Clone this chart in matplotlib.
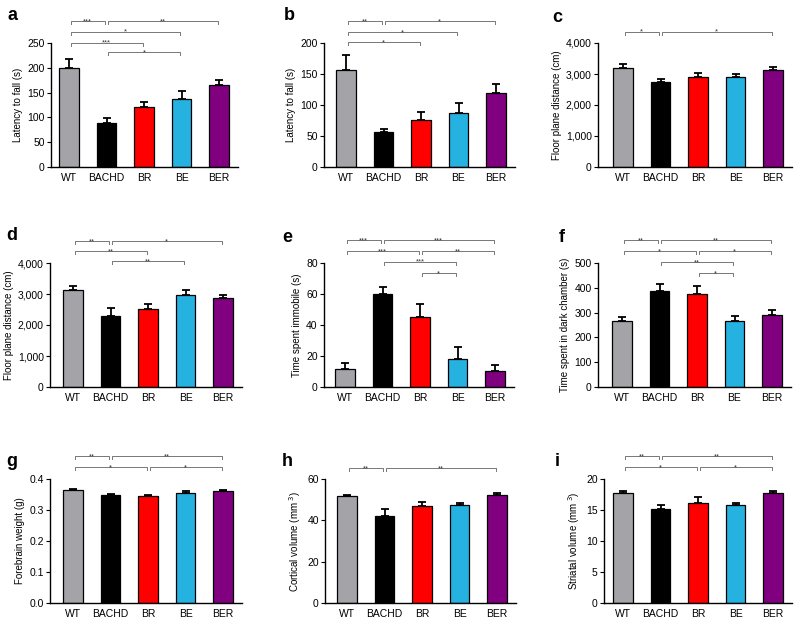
import numpy as np
import matplotlib.pyplot as plt

plt.rcParams['font.family'] = ['Liberation Sans', 'DejaVu Sans']

groups = ['WT', 'BACHD', 'BR', 'BE', 'BER']
colors = ['#a3a3a8', '#000000', '#ff0000', '#26b2e0', '#800080']

# panel values (mean, upper SEM)
rotarod1 = [199, 89, 121, 138, 165]
rotarod1_sem = [18, 9, 11, 15, 10]
rotarod2 = [157, 56, 75, 87, 119]
rotarod2_sem = [23, 6, 13, 16, 15]
floor1 = [3195, 2730, 2905, 2890, 3120]
floor1_sem = [140, 120, 130, 120, 108]
floor2 = [3135, 2290, 2520, 2975, 2855]
floor2_sem = [130, 250, 160, 160, 120]
immobile = [11.5, 59.7, 45.4, 18.2, 10.2]
immobile_sem = [3.7, 4.5, 8.0, 7.3, 3.9]
dark = [266, 389, 374, 266, 289]
dark_sem = [15, 27, 32, 20, 20]
forebrain = [0.364, 0.349, 0.345, 0.354, 0.362]
forebrain_sem = [0.005, 0.003, 0.002, 0.006, 0.003]
cortical = [51.6, 42.2, 47.0, 47.4, 52.5]
cortical_sem = [0.8, 3.5, 2.0, 1.1, 0.7]
striatal = [17.7, 15.1, 16.05, 15.8, 17.8]
striatal_sem = [0.4, 0.65, 1.0, 0.35, 0.3]

# significance brackets: (from, to, height, stars)
sig_a = [(0, 1, 295, '***'), (1, 4, 295, '**'), (0, 3, 273, '*'), (0, 2, 251, '***'), (1, 3, 231, '*')]
sig_b = [(0, 1, 236, '**'), (1, 4, 236, '*'), (0, 3, 218, '*'), (0, 2, 202, '*')]
sig_c = [(0, 1, 4366, '*'), (1, 4, 4366, '*')]
sig_d = [(0, 1, 4700, '**'), (1, 4, 4700, '*'), (0, 2, 4378, '**'), (1, 3, 4054, '**')]
sig_e = [(0, 1, 94.7, '***'), (1, 4, 94.7, '***'), (0, 2, 87.6, '***'), (2, 4, 87.6, '**'),
         (1, 3, 80.9, '***'), (2, 3, 73.5, '*')]
sig_f = [(0, 1, 592, '**'), (1, 4, 592, '**'), (0, 2, 547, '*'), (2, 4, 547, '*'),
         (1, 3, 505, '**'), (2, 3, 459, '*')]
sig_g = [(0, 1, 0.4735, '**'), (1, 4, 0.4735, '**'), (0, 2, 0.438, '*'), (2, 4, 0.438, '*')]
sig_h = [(0, 1, 65.3, '**'), (1, 4, 65.3, '**')]
sig_i = [(0, 1, 23.7, '**'), (1, 4, 23.7, '**'), (0, 2, 21.9, '*'), (2, 4, 21.9, '*')]

panels = [
    ('a', rotarod1, rotarod1_sem, 'Latency to fall (s)', np.arange(0, 251, 50), None, sig_a),
    ('b', rotarod2, rotarod2_sem, 'Latency to fall (s)', np.arange(0, 201, 50), None, sig_b),
    ('c', floor1, floor1_sem, 'Floor plane distance (cm)', np.arange(0, 4001, 1000), 'comma', sig_c),
    ('d', floor2, floor2_sem, 'Floor plane distance (cm)', np.arange(0, 4001, 1000), 'comma', sig_d),
    ('e', immobile, immobile_sem, 'Time spent immobile (s)', np.arange(0, 81, 20), None, sig_e),
    ('f', dark, dark_sem, 'Time spent in dark chamber (s)', np.arange(0, 501, 100), None, sig_f),
    ('g', forebrain, forebrain_sem, 'Forebrain weight (g)', np.arange(0, 0.41, 0.1), '1f', sig_g),
    ('h', cortical, cortical_sem, 'Cortical volume (mm$^{\\ 3}$)', np.arange(0, 61, 20), None, sig_h),
    ('i', striatal, striatal_sem, 'Striatal volume (mm$^{\\ 3}$)', np.arange(0, 21, 5), None, sig_i),
]

# layout in pixels: left spine x, WT bar centre x, x-axis y, panel letter pos
spine_x = [51, 324, 598, 50, 324, 598, 50, 325, 604]
wt_x = [69, 346, 623, 73, 345, 622, 73, 347, 623]
base_y = [167, 167, 167, 387, 387, 387, 603, 603, 603]
letter_pos = [(12, 16), (289, 15), (557, 17), (12, 235), (287, 238), (562, 237),
              (12, 462), (287, 462), (557, 462)]
W, H = 800, 624
step = 37.5
ax_h = 124

fig = plt.figure(figsize=(8, 6.24), dpi=100)

for k, (letter, vals, sem, ylab, ticks, fmt, sigs) in enumerate(panels):
    left_units = (wt_x[k] - spine_x[k]) / step
    xlim = (-left_units, 4.5)
    width_px = (xlim[1] - xlim[0]) * step
    ax = fig.add_axes([spine_x[k] / W, 1 - base_y[k] / H, width_px / W, ax_h / H])
    x = np.arange(len(groups))
    ax.bar(x, vals, width=0.53, color=colors, edgecolor='black', linewidth=0.9, zorder=2)
    ax.errorbar(x, vals, yerr=[np.zeros(5), sem], fmt='none', ecolor='black',
                elinewidth=1.3, capsize=3.2, capthick=1.3, zorder=1)
    ymax = ticks[-1]
    ax.set_xlim(*xlim)
    ax.set_ylim(0, ymax)
    ax.set_yticks(ticks)
    if fmt == 'comma':
        ax.set_yticklabels(['{:,}'.format(int(t)) for t in ticks])
    elif fmt == '1f':
        ax.set_yticklabels(['{:.1f}'.format(t) for t in ticks])
    ax.set_xticks(x)
    ax.set_xticklabels(groups)
    ax.tick_params(axis='x', length=0, labelsize=7.5, pad=4)
    ax.tick_params(axis='y', length=3, width=0.8, labelsize=7.5, pad=1.5)
    for s in ['top', 'right']:
        ax.spines[s].set_visible(False)
    for s in ['left', 'bottom']:
        ax.spines[s].set_linewidth(1.0)
    ax.set_ylabel(ylab, fontsize=7, labelpad=3)

    dy = ymax * 3.0 / ax_h
    for (i, j, yb, stars) in sigs:
        x1, x2 = i + 0.04, j - 0.04
        ax.plot([x1, x1, x2, x2], [yb - dy, yb, yb, yb - dy], color='#777777',
                linewidth=0.7, clip_on=False)
        ax.annotate(stars, xy=((x1 + x2) / 2, yb), xytext=(0, -1.6),
                    textcoords='offset points', ha='center', va='baseline',
                    fontsize=5.5, color='#333333', annotation_clip=False)

    lx, ly = letter_pos[k]
    fig.text(lx / W, 1 - ly / H, letter, fontsize=13, fontweight='bold',
             ha='center', va='center')

fig.savefig('out.png', dpi=100)
